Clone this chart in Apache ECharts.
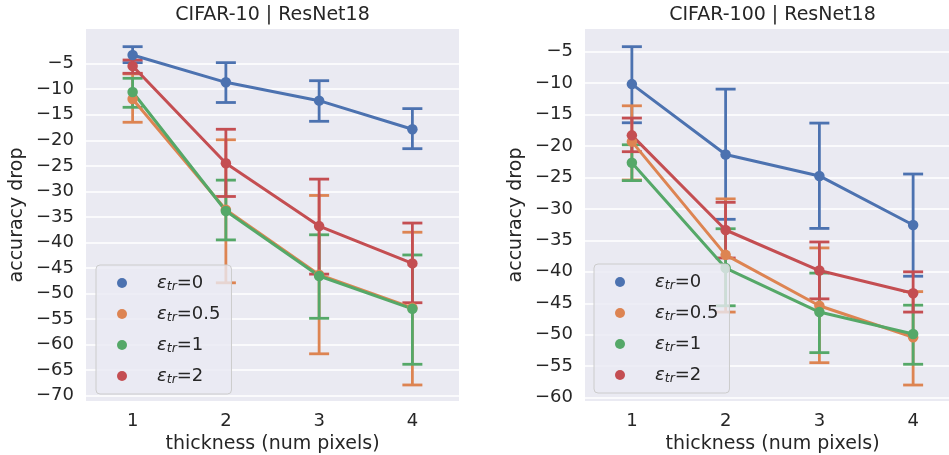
<!DOCTYPE html>
<html>
<head>
<meta charset="utf-8">
<script src="https://cdn.jsdelivr.net/npm/echarts@6/dist/echarts.min.js"></script>
<style>html,body{margin:0;padding:0;background:#fff;}#c{width:949px;height:455px;}</style>
</head>
<body>
<div id="c"></div>
<script>
// ---- data ----
const categories = ['1', '2', '3', '4'];
const epsLabels = ['0', '0.5', '1', '2'];
const titles = ['CIFAR-10 | ResNet18', 'CIFAR-100 | ResNet18'];
const xAxisName = 'thickness (num pixels)';
const yAxisName = 'accuracy drop';
const leftTicks = [-70, -65, -60, -55, -50, -45, -40, -35, -30, -25, -20, -15, -10, -5];
const rightTicks = [-60, -55, -50, -45, -40, -35, -30, -25, -20, -15, -10, -5];

// CIFAR-10
const c10_eps0_mean = [-3.3, -8.65, -12.24, -17.84];
const c10_eps0_low = [-4.8, -12.6, -16.28, -21.64];
const c10_eps0_high = [-1.67, -4.8, -8.33, -13.8];
const c10_eps05_mean = [-11.9, -33.6, -46.3, -52.8];
const c10_eps05_low = [-16.47, -47.9, -61.8, -67.9];
const c10_eps05_high = [-7.0, -19.9, -30.8, -38.0];
const c10_eps1_mean = [-10.54, -33.84, -46.56, -53.0];
const c10_eps1_low = [-13.54, -39.5, -54.85, -63.85];
const c10_eps1_high = [-7.86, -27.8, -38.5, -42.45];
const c10_eps2_mean = [-5.45, -24.5, -36.8, -44.1];
const c10_eps2_low = [-6.88, -31.0, -46.2, -51.8];
const c10_eps2_high = [-4.28, -17.84, -27.6, -36.2];

// CIFAR-100
const c100_eps0_mean = [-10.15, -21.35, -24.75, -32.55];
const c100_eps0_low = [-16.3, -31.65, -33.1, -40.7];
const c100_eps0_high = [-4.2, -10.95, -16.35, -24.45];
const c100_eps05_mean = [-19.3, -37.3, -45.4, -50.4];
const c100_eps05_low = [-25.4, -46.4, -54.45, -58.0];
const c100_eps05_high = [-13.6, -28.4, -36.2, -43.15];
const c100_eps1_mean = [-22.65, -39.4, -46.4, -49.9];
const c100_eps1_low = [-25.5, -45.4, -52.85, -54.7];
const c100_eps1_high = [-19.8, -33.15, -40.2, -45.3];
const c100_eps2_mean = [-18.3, -33.35, -39.8, -43.4];
const c100_eps2_low = [-20.9, -37.8, -44.3, -46.4];
const c100_eps2_high = [-15.55, -28.95, -35.25, -40.0];

const colors = ['#4C72B0', '#DD8452', '#55A868', '#C44E52'];
const FONT = 'DejaVu Sans';
const TXT = '#262626';

const panels = [
  { means: [c10_eps0_mean, c10_eps05_mean, c10_eps1_mean, c10_eps2_mean],
    lows: [c10_eps0_low, c10_eps05_low, c10_eps1_low, c10_eps2_low],
    highs: [c10_eps0_high, c10_eps05_high, c10_eps1_high, c10_eps2_high],
    ticks: leftTicks, ymin: -71.04, ymax: 1.79 },
  { means: [c100_eps0_mean, c100_eps05_mean, c100_eps1_mean, c100_eps2_mean],
    lows: [c100_eps0_low, c100_eps05_low, c100_eps1_low, c100_eps2_low],
    highs: [c100_eps0_high, c100_eps05_high, c100_eps1_high, c100_eps2_high],
    ticks: rightTicks, ymin: -60.54, ymax: -1.39 }
];

const gridsLayout = [
  { left: 86, top: 29, width: 373, height: 372 },
  { left: 585, top: 29, width: 375, height: 372 }
];
const legendPos = [{ left: 96, top: 265 }, { left: 594, top: 264 }];

const seriesNames = epsLabels.map(e => 'eps_' + e);

function minusFmt(v) { return String(v).replace('-', '\u2212'); }

const option = {
  animation: false,
  backgroundColor: '#ffffff',
  textStyle: { fontFamily: FONT },
  title: titles.map((t, i) => ({
    text: t,
    left: gridsLayout[i].left + gridsLayout[i].width / 2,
    textAlign: 'center',
    top: 6,
    padding: 0,
    textStyle: { fontFamily: FONT, fontSize: 19, fontWeight: 'normal', color: TXT }
  })),
  grid: gridsLayout.map(g => Object.assign({
    show: true, backgroundColor: '#EAEAF2', borderWidth: 0, containLabel: false,
    outerBoundsMode: 'none'
  }, g)),
  xAxis: gridsLayout.map((g, i) => ({
    type: 'category', gridIndex: i, data: categories, boundaryGap: true,
    axisLine: { show: false }, axisTick: { show: false }, splitLine: { show: false },
    axisLabel: { color: TXT, fontSize: 18, fontFamily: FONT, margin: 11 },
    name: xAxisName, nameLocation: 'middle', nameGap: 30,
    nameTextStyle: { color: TXT, fontSize: 19, fontFamily: FONT }
  })),
  yAxis: panels.map((p, i) => ({
    type: 'value', gridIndex: i, min: p.ymin, max: p.ymax,
    axisLine: { show: false },
    axisTick: { show: false, customValues: p.ticks },
    axisLabel: { customValues: p.ticks, color: TXT, fontSize: 18, fontFamily: FONT, margin: 12,
      formatter: minusFmt, showMinLabel: true, showMaxLabel: true },
    splitLine: { show: true, lineStyle: { color: '#ffffff', width: 1.5 } },
    name: yAxisName, nameLocation: 'middle', nameGap: 59,
    nameTextStyle: { color: TXT, fontSize: 19, fontFamily: FONT }
  })),
  legend: legendPos.map((lp, i) => ({
    data: seriesNames,
    orient: 'vertical',
    left: lp.left, top: lp.top,
    icon: 'circle', itemWidth: 10, itemHeight: 10, itemGap: 12,
    selectedMode: false,
    backgroundColor: 'rgba(234,234,242,0.8)',
    borderColor: '#cccccc', borderWidth: 1, borderRadius: 4,
    padding: [9, 11, 8, 21],
    formatter: name => '{g| }{e|\u03b5}{s|tr}{m|=' + name.slice(4) + '}',
    textStyle: {
      color: TXT, fontSize: 18, fontFamily: FONT,
      rich: {
        g: { width: 25, fontSize: 18, lineHeight: 20 },
        e: { fontStyle: 'italic', fontSize: 18, lineHeight: 20, color: TXT, fontFamily: FONT },
        s: { fontStyle: 'italic', fontSize: 12.5, lineHeight: 9, verticalAlign: 'bottom', color: TXT, fontFamily: FONT },
        m: { fontSize: 18, lineHeight: 20, color: TXT, fontFamily: FONT }
      }
    }
  })),
  series: []
};

panels.forEach((p, pi) => {
  for (let h = 0; h < 4; h++) {
    const col = colors[h];
    option.series.push({
      type: 'custom', name: 'err_' + pi + '_' + h,
      xAxisIndex: pi, yAxisIndex: pi, silent: true,
      encode: { x: 0, y: [1, 2] },
      data: categories.map((c, k) => [k, p.lows[h][k], p.highs[h][k]]),
      renderItem: (params, api) => {
        const x = api.value(0);
        const lo = api.coord([x, api.value(1)]);
        const hi = api.coord([x, api.value(2)]);
        const hw = 10;
        const st = { stroke: col, lineWidth: 2.8, fill: null };
        return { type: 'group', children: [
          { type: 'line', shape: { x1: lo[0], y1: lo[1], x2: hi[0], y2: hi[1] }, style: st },
          { type: 'line', shape: { x1: lo[0] - hw, y1: lo[1], x2: lo[0] + hw, y2: lo[1] }, style: st },
          { type: 'line', shape: { x1: hi[0] - hw, y1: hi[1], x2: hi[0] + hw, y2: hi[1] }, style: st }
        ] };
      }
    });
    option.series.push({
      type: 'line', name: seriesNames[h],
      xAxisIndex: pi, yAxisIndex: pi,
      data: p.means[h],
      symbol: 'circle', symbolSize: 10.5, showSymbol: true,
      lineStyle: { color: col, width: 3 },
      itemStyle: { color: col, borderWidth: 0 },
      emphasis: { disabled: true }
    });
  }
});

const chart = echarts.init(document.getElementById('c'), null, { renderer: 'canvas' });
chart.setOption(option);
</script>
</body>
</html>
